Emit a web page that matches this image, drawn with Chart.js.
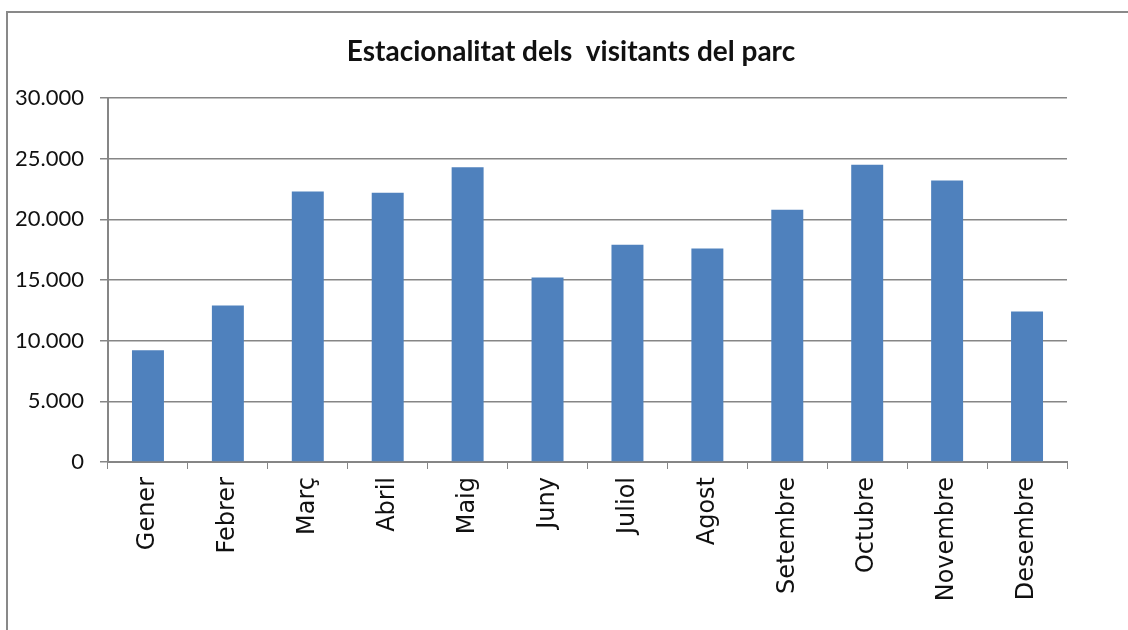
<!DOCTYPE html>
<html>
<head>
<meta charset="utf-8">
<script src="https://cdn.jsdelivr.net/npm/chart.js@4/dist/chart.umd.min.js"></script>
<style>
  html, body { margin: 0; padding: 0; background: #fff; }
  #wrap { width: 1128px; height: 630px; position: relative; }
</style>
</head>
<body>
<div id="wrap"><canvas id="chart" width="1128" height="630"></canvas></div>
<script>
// Months (Catalan) and visitors per month
const months = ['Gener', 'Febrer', 'Març', 'Abril', 'Maig', 'Juny', 'Juliol', 'Agost', 'Setembre', 'Octubre', 'Novembre', 'Desembre'];
const visitors = [9200, 12900, 22300, 22200, 24300, 15200, 17900, 17600, 20800, 24500, 23200, 12400];

// Y axis range
const yMin = 0;
const yMax = 30000;
const yStep = 5000;

const titleText = 'Estacionalitat dels  visitants del parc';

// Draws the gray frame of the chart object (top and left edges visible)
const framePlugin = {
  id: 'frame',
  beforeDraw(chart) {
    const c = chart.ctx;
    c.save();
    c.fillStyle = '#fff';
    c.fillRect(0, 0, chart.width, chart.height);
    c.strokeStyle = '#898989';
    c.lineWidth = 2;
    c.strokeRect(7, 12, 1300, 800);
    c.restore();
  }
};

// Title drawn by hand so it can sit slightly right of the canvas centre, like the original
const titlePlugin = {
  id: 'sheetTitle',
  afterDraw(chart) {
    const c = chart.ctx;
    c.save();
    c.fillStyle = '#111';
    c.font = 'bold 28px Lato';
    c.textAlign = 'center';
    c.textBaseline = 'middle';
    c.fillText(titleText, 571, 52);
    c.restore();
  }
};

const ctx = document.getElementById('chart').getContext('2d');

new Chart(ctx, {
  type: 'bar',
  data: {
    labels: months,
    datasets: [{
      label: 'Visitants',
      data: visitors,
      backgroundColor: '#4F81BD',
      borderWidth: 0,
      barPercentage: 0.4,
      categoryPercentage: 1
    }]
  },
  options: {
    responsive: false,
    animation: false,
    layout: {
      padding: { left: 0, top: 98, right: 61, bottom: 0 }
    },
    scales: {
      y: {
        min: yMin,
        max: yMax,
        afterFit(scale) { scale.width = 108; },
        ticks: {
          stepSize: yStep,
          padding: 16,
          color: '#111',
          font: { family: 'Lato', size: 22 },
          callback: value => value.toLocaleString('de-DE')
        },
        grid: {
          color: '#868686',
          lineWidth: 1.5,
          tickLength: 8
        },
        border: { color: '#868686', width: 2 }
      },
      x: {
        afterFit(scale) { scale.height = 168; },
        ticks: {
          minRotation: 90,
          maxRotation: 90,
          padding: 8,
          color: '#111',
          font: { family: 'DejaVu Sans', size: 24 }
        },
        grid: {
          display: true,
          drawOnChartArea: false,
          offset: true,
          color: '#868686',
          lineWidth: 1,
          tickLength: 7
        },
        border: { color: '#868686', width: 2 }
      }
    },
    plugins: {
      legend: { display: false },
      tooltip: { enabled: false },
      title: { display: false }
    }
  },
  plugins: [framePlugin, titlePlugin]
});
</script>
</body>
</html>
